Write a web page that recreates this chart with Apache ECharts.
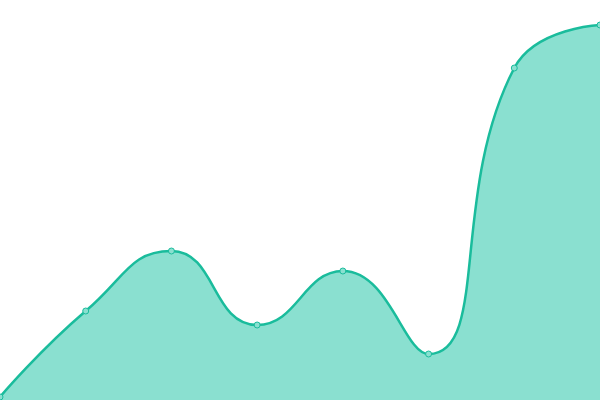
<!DOCTYPE html>
<html><head><meta charset="utf-8">
<script src="https://cdn.jsdelivr.net/npm/echarts@6/dist/echarts.min.js"></script>
<style>html,body{margin:0;padding:0;background:#fff}#c{width:600px;height:400px}</style>
</head><body><div id="c"></div>
<script>
const categories = ['1','2','3','4','5','6','7','8'];
const values = [3, 89, 149, 75, 129, 46, 332, 375];
const chart = echarts.init(document.getElementById('c'));
chart.setOption({
  animation: false,
  grid: {left: 0, right: 0, top: 0, bottom: 0},
  xAxis: {type: 'category', data: categories, boundaryGap: false, show: false},
  yAxis: {type: 'value', min: 0, max: 400, show: false},
  series: [{
    type: 'line',
    data: values,
    smooth: true,
    symbol: 'circle',
    symbolSize: 6,
    itemStyle: {color: '#8ae0d0', borderColor: '#1abc9c', borderWidth: 1},
    lineStyle: {color: '#1abc9c', width: 2.5},
    areaStyle: {color: '#8ae0d0', opacity: 1}
  }]
});
</script></body></html>
